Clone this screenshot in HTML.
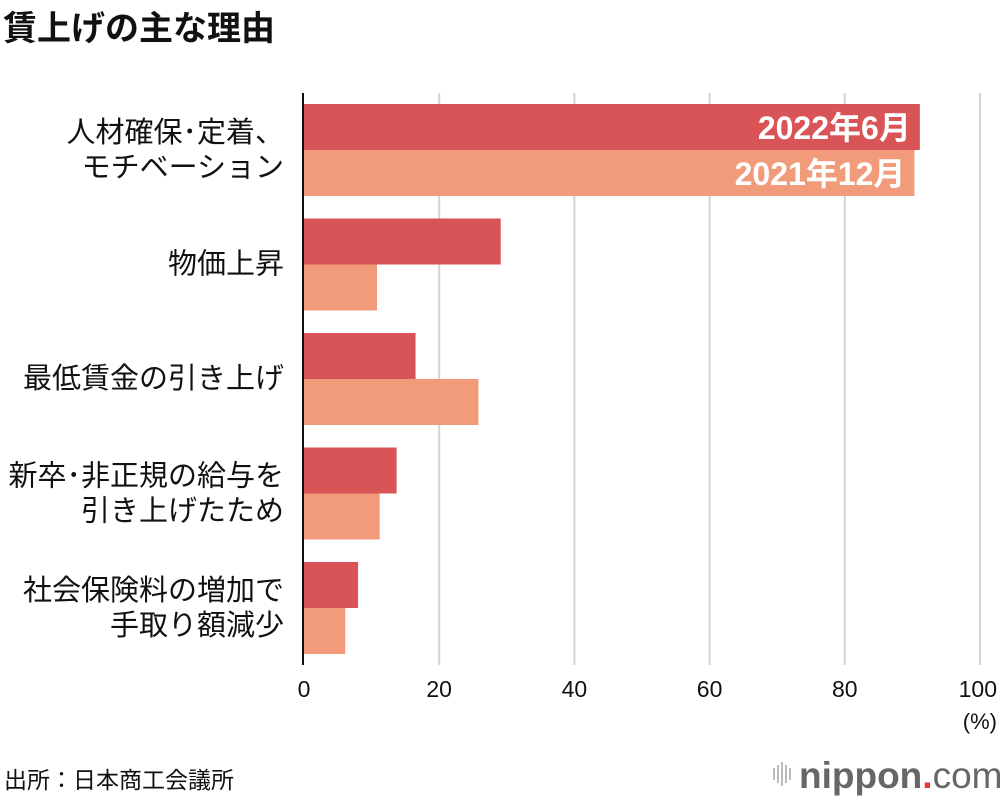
<!DOCTYPE html>
<html><head><meta charset="utf-8"><style>
body{margin:0;background:#fff;width:1000px;height:796px;overflow:hidden;font-family:"Liberation Sans","Noto Sans CJK JP",sans-serif;}
</style></head><body>
<svg width="1000" height="796" xmlns="http://www.w3.org/2000/svg" font-family="'Liberation Sans','Noto Sans CJK JP',sans-serif">
<text x="3" y="40" font-size="34" font-weight="bold" fill="#111">賃上げの主な理由</text>
<g id="grid"></g>
<g id="bars"></g>
<g id="labels"></g>
<g id="ticks"></g>
<line x1="303" y1="93" x2="303" y2="665" stroke="#111" stroke-width="2"/>
<text x="997" y="729" font-size="22" text-anchor="end" fill="#111">(%)</text>
<text x="4" y="788" font-size="23" fill="#111">出所：日本商工会議所</text>
<g>
<g fill="#bbb"><rect x="773" y="768" width="2" height="12"/><rect x="777" y="765" width="2" height="18"/><rect x="781" y="762" width="2" height="24"/><rect x="785" y="765" width="2" height="18"/><rect x="789" y="768" width="2" height="12"/></g>
<text x="799" y="788" font-size="37" fill="#666" font-weight="bold">nippon<tspan fill="#e33">.</tspan><tspan font-weight="normal">com</tspan></text>
</g>
</svg>
<script>
const categories=[["人材確保･定着、","モチベーション"],["物価上昇"],["最低賃金の引き上げ"],["新卒･非正規の給与を","引き上げたため"],["社会保険料の増加で","手取り額減少"]];
const series2022=[91.1,29.1,16.5,13.7,8.0];
const series2021=[90.3,10.8,25.8,11.2,6.1];
const ticks=[0,20,40,60,80,100];
const ns="http://www.w3.org/2000/svg";
const x0=304,x100=980,top0=104,step=114.5,bh=46;
const xs=v=>x0+(x100-x0)*v/100;
function mk(t,a,p){const e=document.createElementNS(ns,t);for(const k in a)e.setAttribute(k,a[k]);p.appendChild(e);return e;}
const G=document.getElementById('grid'),B=document.getElementById('bars'),L=document.getElementById('labels'),T=document.getElementById('ticks');
ticks.forEach(t=>{
 if(t>0){const l=mk('line',{x1:xs(t),x2:xs(t),y1:93,y2:665,stroke:'#d4d4d4','stroke-width':2},G);
 
 }
 const tx=mk('text',{x:t===100?997:xs(t),y:697,'font-size':23,'text-anchor':t===100?'end':'middle',fill:'#111'},T);
 tx.textContent=t;
 
 
});
categories.forEach((c,i)=>{
 const y=top0+i*step;
 const r1=mk('rect',{x:x0,y:y,width:xs(series2022[i])-x0,height:bh,fill:'#d95456'},B);
 
 
 const r2=mk('rect',{x:x0,y:y+bh,width:xs(series2021[i])-x0,height:bh,fill:'#f29b7b'},B);
 
 
 const mid=y+bh;
 c.forEach((line,j)=>{
  const yy=c.length===1?mid+9:mid-8+j*35;
  const t=mk('text',{x:284,y:yy,'font-size':29,'text-anchor':'end',fill:'#111'},L);
  t.textContent=line;
  
  
 });
});
const l1=mk('text',{x:xs(series2022[0])-9,y:top0+35,'font-size':32,'font-weight':'bold','text-anchor':'end',fill:'#fff'},L);
l1.textContent='2022年6月';


const l2=mk('text',{x:xs(series2021[0])-9,y:top0+bh+35,'font-size':32,'font-weight':'bold','text-anchor':'end',fill:'#fff'},L);
l2.textContent='2021年12月';


</script>
</body></html>
